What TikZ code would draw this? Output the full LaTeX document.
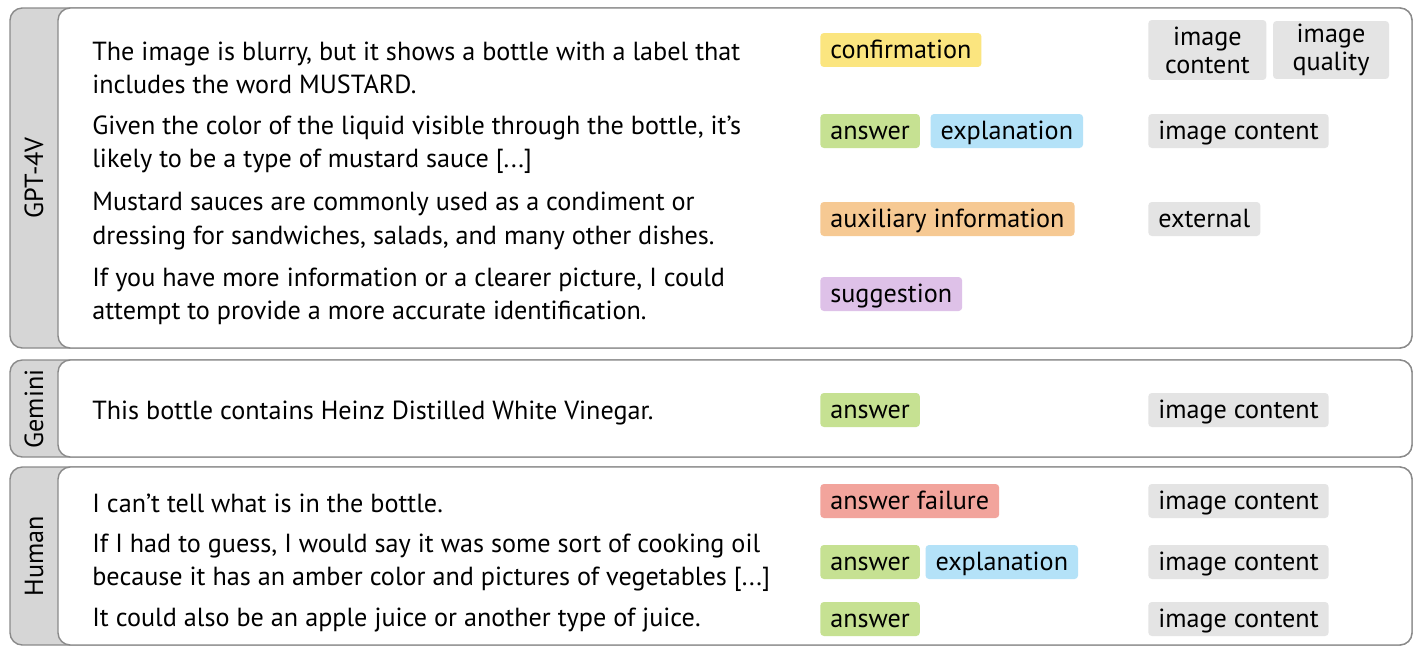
\documentclass[tikz,border=0pt]{standalone}
\usepackage{fontspec}
\setmainfont{PT Sans}
\usetikzlibrary{positioning}

\definecolor{framegray}{HTML}{8A8A8A}
\definecolor{tabgray}{HTML}{D6D6D6}
\definecolor{catgray}{HTML}{E4E4E4}
\definecolor{confyellow}{HTML}{FBE57F}
\definecolor{ansgreen}{HTML}{C6E192}
\definecolor{explblue}{HTML}{B4E2F8}
\definecolor{auxorange}{HTML}{F6C993}
\definecolor{suggpurple}{HTML}{DEC1E8}
\definecolor{failred}{HTML}{F2A49C}

\tikzset{
	panel/.style={draw=framegray, line width=0.8pt, rounded corners=7pt},
	tab/.style={panel, fill=tabgray},
	card/.style={panel, fill=white},
	who/.style={rotate=90, font=\fontsize{14.9pt}{18pt}\selectfont},
	reply/.style={anchor=west, align=left, inner sep=0pt, font=\fontsize{14.9pt}{18.8pt}\selectfont},
	tag/.style={anchor=west, rounded corners=2pt, inner xsep=0.2cm, inner ysep=0pt,
		minimum height=0.68cm, text height=2.2ex, text depth=0.3ex,
		font=\fontsize{14.9pt}{18pt}\selectfont},
	cat/.style={tag, fill=catgray},
	cattwo/.style={cat, align=center, text height=, text depth=, inner xsep=0pt,
		font=\fontsize{14.9pt}{15.9pt}\selectfont},
}

\begin{document}
\begin{tikzpicture}[x=0.02cm, y=-0.02cm]
		\useasboundingbox (0,0) rectangle (1426,656);

		% panels
		\draw[tab]  (10,8) rectangle (1412,348);
		\draw[card] (58,8) rectangle (1412,348);
		\draw[tab]  (10,360) rectangle (1412,457);
		\draw[card] (58,360) rectangle (1412,457);
		\draw[tab]  (10,467) rectangle (1412,645);
		\draw[card] (58,467) rectangle (1412,645);

		\node[who] (gpt)    at (34,178) {GPT-4V};
		\node[who] (gemini) at (34,409) {Gemini};
		\node[who] (human)  at (34,556) {Human};

		% GPT-4V
		\node[reply] (g1) at (92,68) {The image is blurry, but it shows a bottle with a label that\\includes the word MUSTARD.};
		\node[reply] (g2) at (92,145) {Given the color of the liquid visible through the bottle, it’s\\likely to be a type of mustard sauce [...]};
		\node[reply] (g3) at (92,221) {Mustard sauces are commonly used as a condiment or\\dressing for sandwiches, salads, and many other dishes.};
		\node[reply] (g4) at (92,296) {If you have more information or a clearer picture, I could\\attempt to provide a more accurate identification.};

		\node[tag, fill=confyellow] (g1a) at (820,50) {confirmation};
		\node[tag, fill=ansgreen] (g2a) at (820,131) {answer};
		\node[tag, fill=explblue, right=0.2cm of g2a] (g2b) {explanation};
		\node[tag, fill=auxorange] (g3a) at (820,219) {auxiliary information};
		\node[tag, fill=suggpurple] (g4a) at (820,294) {suggestion};

		\node[cattwo, minimum width=2.36cm, minimum height=1.2cm] (g1c) at (1148,50) {image\\content};
		\node[cattwo, minimum width=2.32cm, minimum height=1.16cm, right=0.12cm of g1c] (g1d) {image\\quality};
		\node[cat] (g2c) at (1148,131) {image content};
		\node[cat] (g3c) at (1148,219) {external};

		% Gemini
		\node[reply] (m1) at (92,413) {This bottle contains Heinz Distilled White Vinegar.};
		\node[tag, fill=ansgreen] (m1a) at (820,410) {answer};
		\node[cat] (m1c) at (1148,410) {image content};

		% Human
		\node[reply] (h1) at (92,503) {I can’t tell what is in the bottle.};
		\node[reply] (h2) at (92,563) {If I had to guess, I would say it was some sort of cooking oil\\because it has an amber color and pictures of vegetables [...]};
		\node[reply] (h3) at (92,620) {It could also be an apple juice or another type of juice.};

		\node[tag, fill=failred] (h1a) at (820,501) {answer failure};
		\node[tag, fill=ansgreen] (h2a) at (820,562) {answer};
		\node[tag, fill=explblue, right=0.1cm of h2a] (h2b) {explanation};
		\node[tag, fill=ansgreen] (h3a) at (820,619) {answer};
		\node[cat] (h1c) at (1148,501) {image content};
		\node[cat] (h2c) at (1148,562) {image content};
		\node[cat] (h3c) at (1148,619) {image content};
\end{tikzpicture}
\end{document}
